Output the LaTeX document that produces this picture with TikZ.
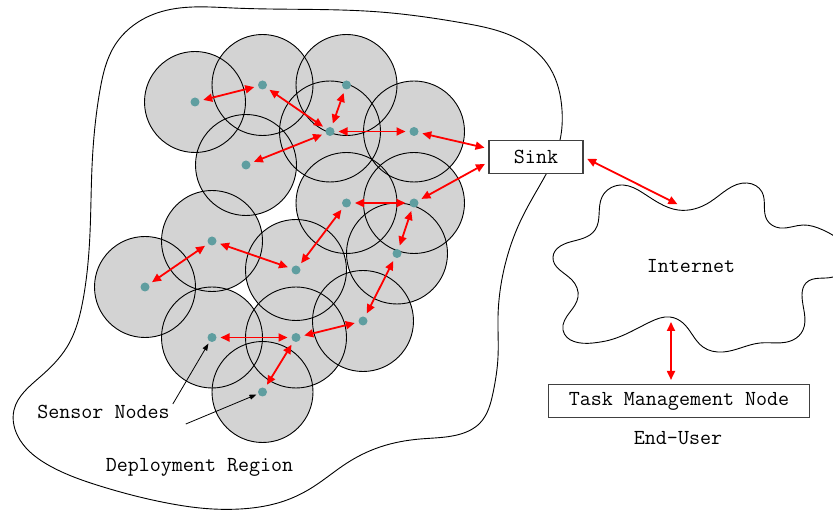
\documentclass[tikz,border=0pt]{standalone}
\usepackage{fontspec}
\usetikzlibrary{arrows.meta,hobby}
\definecolor{rangegray}{RGB}{211,211,211}
\definecolor{moteteal}{RGB}{95,158,160}
\begin{document}
\begin{tikzpicture}[x=1pt,y=-1pt,
  rangedisk/.style={fill=rangegray},
  rangeedge/.style={draw=black,line width=0.9pt},
  outline/.style={draw=black,line width=0.9pt},
  mote/.style={circle,fill=moteteal,inner sep=0pt,outer sep=0pt,minimum size=9pt},
  link/.style={draw=red,line width=1.8pt,
    {Triangle[length=9pt,width=8pt]}-{Triangle[length=9pt,width=8pt]},
    shorten >=4pt,shorten <=4pt},
  pointer/.style={draw=black,line width=0.8pt,-{Triangle[length=7pt,width=5pt]}},
  txt/.style={font=\ttfamily\fontsize{21.4}{23}\selectfont,inner sep=0pt},
  box/.style={txt,draw=black!75,line width=1.1pt,fill=white,minimum height=33pt}
]
\useasboundingbox (0,0) rectangle (833,510);
\clip (0,0) rectangle (833,510);

\def\motelist{1/195/102, 2/262.5/85, 3/346.5/85, 4/330/131.5, 5/414/131.5,
  6/246/165, 7/346.5/203, 8/414/203, 9/212/241, 10/145/287,
  11/296/270, 12/397/253.5, 13/363/321, 14/212/337.5, 15/296/337.5, 16/262.5/392}

% deployment region boundary
\draw[outline] plot[closed hobby] coordinates {
  (157,13) (233,8) (380,12) (463,23) (520,40) (550,68) (562,110)
  (560,140) (540,185) (520,222) (505,265) (498,317)
  (498,357) (493,393) (480,423) (457,435) (420,439) (380,447) (347,463)
  (313,487) (287,500) (240,509) (200,508) (167,503) (100,486) (50,466)
  (20,440) (14,410) (40,377) (67,347) (83,300) (90,233) (92,167)
  (100,90) (115,45)};

% radio ranges: fills first, then all outlines
\foreach \i/\x/\y in \motelist {\fill[rangedisk] (\x,\y) circle[radius=50.5pt];}
\foreach \i/\x/\y in \motelist {\draw[rangeedge] (\x,\y) circle[radius=50.5pt];}

% sensor motes
\foreach \i/\x/\y in \motelist {\node[mote] (n\i) at (\x,\y) {};}

% Internet cloud
\draw[outline] plot[closed hobby] coordinates {
  (553,257) (570,242) (595,230) (602,197) (623,185) (643,193)
  (678,210) (710,202) (747,183) (762,192) (767,220) (780,228) (803,225)
  (823,230) (848,258) (833,277) (806,283) (802,295) (803,330) (793,340)
  (760,343) (723,352) (703,347) (683,323) (670,317) (650,322) (610,340)
  (593,343) (563,330) (570,312) (578,297) (572,280)};

% boxes and labels
\node[box,minimum width=94pt] (sink) at (536,157) {Sink};
\node[box,minimum width=261pt] (task) at (679,401) {Task Management Node};
\node[txt] (inet) at (691,266) {Internet};
\node[txt] (user) at (678,438) {End-User};
\node[txt] (region) at (199.5,467) {Deployment Region};
\node[txt] (sensorlbl) at (103.5,412) {Sensor Nodes};

\coordinate (inettop) at (681,206);
\coordinate (inetbot) at (671,318);

% multi-hop links
\foreach \a/\b in {1/2, 2/4, 3/4, 4/5, 4/6, 7/8, 8/12, 7/11, 9/11, 9/10,
  12/13, 13/15, 14/15, 15/16}
  {\draw[link] (n\a) -- (n\b);}
\draw[link] (n5) -- (sink.170);
\draw[link] (n8) -- (sink.186);
\draw[link] (sink.east) -- (inettop);
\draw[link] (inetbot) -- (task.north -| inetbot);

% pointers from the label
\draw[pointer,shorten >=2.5pt] ([xshift=3pt,yshift=1pt]sensorlbl.north east) -- (n14);
\draw[pointer,shorten >=2pt] ([xshift=16pt,yshift=-5pt]sensorlbl.south east) -- (n16);
\end{tikzpicture}
\end{document}
